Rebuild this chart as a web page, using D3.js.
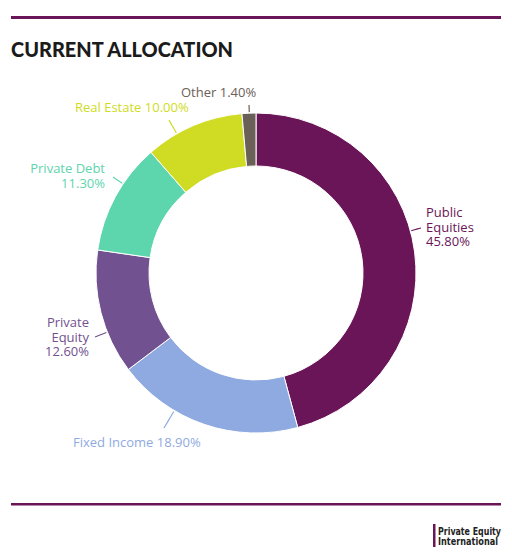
<!DOCTYPE html>
<html><head><meta charset="utf-8">
<script src="https://cdn.jsdelivr.net/npm/d3@7"></script>
<style>
html,body{margin:0;padding:0;background:#fff;}
svg{display:block;}
</style></head>
<body>
<svg id="chart" width="512" height="557"></svg>
<script>
// ---- data ----
const categories = ["Public Equities", "Fixed Income", "Private Equity", "Private Debt", "Real Estate", "Other"];
const values = [45.8, 18.9, 12.6, 11.3, 10.0, 1.4];
const colors = ["#6a1558", "#8faae0", "#715190", "#5dd5ad", "#cfdc23", "#6b6058"];
const labelLines = [["Public", "Equities", "45.80%"], ["Fixed Income 18.90%"], ["Private", "Equity", "12.60%"], ["Private Debt", "11.30%"], ["Real Estate 10.00%"], ["Other 1.40%"]];

// ---- layout (label placement) ----
const labelPos = [
  {x: 426, y: 217, anchor: "start", end: [421, 228]},
  {x: 73, y: 447, anchor: "start", end: [164, 428]},
  {x: 89, y: 327, anchor: "end", end: [95, 337]},
  {x: 105, y: 173, anchor: "end", end: [113, 177]},
  {x: 75, y: 112, anchor: "start", end: [169, 120]},
  {x: 181, y: 97, anchor: "start", end: [249, 105]}
];

const W = 512, H = 557;
const cx = 256, cy = 273, rOuter = 160, rInner = 107;
const svg = d3.select("#chart");

// rules
const ruleColor = "#6a1558";
svg.append("rect").attr("x", 11).attr("y", 16).attr("width", 490).attr("height", 3).attr("fill", ruleColor);
svg.append("rect").attr("x", 11).attr("y", 503).attr("width", 490).attr("height", 2.5).attr("fill", ruleColor);

// title
svg.append("text").attr("x", 11).attr("y", 57)
  .attr("font-family", "Lato, sans-serif").attr("font-weight", 900).attr("font-size", 20)
  .attr("fill", "#1b1b1b").attr("textLength", 222).attr("lengthAdjust", "spacingAndGlyphs")
  .text("CURRENT ALLOCATION");

// donut
const data = categories.map((c, i) => ({cat: c, value: values[i], color: colors[i], lines: labelLines[i], pos: labelPos[i]}));
const pie = d3.pie().value(d => d.value).sort(null);
const arc = d3.arc().innerRadius(rInner).outerRadius(rOuter);
const g = svg.append("g").attr("transform", `translate(${cx},${cy})`);
g.selectAll("path.slice").data(pie(data)).join("path")
  .attr("class", "slice")
  .attr("d", arc)
  .attr("fill", d => d.data.color)
  .attr("stroke", "#fff").attr("stroke-width", 1);

// leaders
data.forEach(d => {
  const [ex, ey] = d.pos.end;
  const ang = Math.atan2(ey - cy, ex - cx);
  const sx = cx + (rOuter + 1) * Math.cos(ang), sy = cy + (rOuter + 1) * Math.sin(ang);
  const mx = cx + (rOuter + 5) * Math.cos(ang), my = cy + (rOuter + 5) * Math.sin(ang);
  svg.append("path")
    .attr("d", d3.line().curve(d3.curveBasis)([[sx, sy], [mx, my], [ex, ey]]))
    .attr("fill", "none").attr("stroke", d.color).attr("stroke-width", 1.2);
});

// labels
data.forEach(d => {
  const t = svg.append("text")
    .attr("font-family", "'Open Sans', sans-serif").attr("font-size", 13)
    .attr("fill", d.color).attr("text-anchor", d.pos.anchor);
  d.lines.forEach((ln, i) => {
    t.append("tspan").attr("x", d.pos.x).attr("y", d.pos.y + i * 14.5).text(ln);
  });
});

// logo
svg.append("rect").attr("x", 433).attr("y", 524).attr("width", 2.5).attr("height", 23).attr("fill", ruleColor);
const logo = svg.append("text").attr("font-family", "'DejaVu Sans Condensed', 'DejaVu Sans', sans-serif")
  .attr("font-weight", "bold").attr("font-size", 10).attr("fill", "#222");
logo.append("tspan").attr("x", 438).attr("y", 535).attr("textLength", 63).attr("lengthAdjust", "spacingAndGlyphs").text("Private Equity");
logo.append("tspan").attr("x", 438).attr("y", 545).attr("textLength", 60).attr("lengthAdjust", "spacingAndGlyphs").text("International");
</script>
</body></html>
